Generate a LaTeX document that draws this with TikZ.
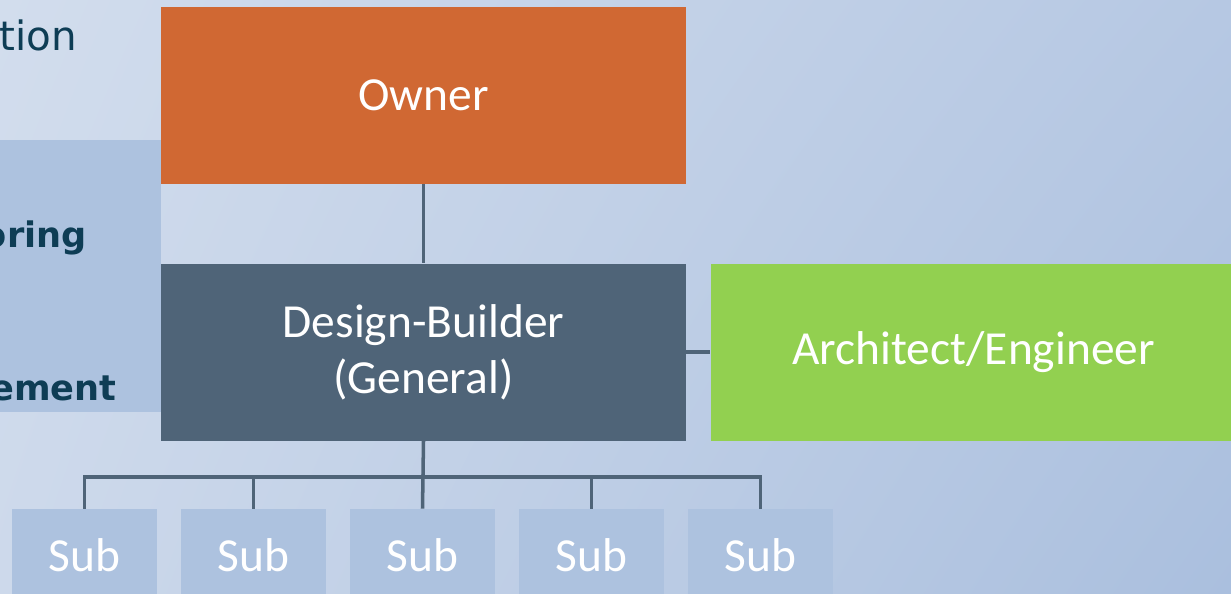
\documentclass[tikz,border=0pt]{standalone}
\usepackage{fontspec}
\setmainfont{Carlito}
\newfontfamily\sidefont{DejaVu Sans}
\usepackage{xcolor}
\usetikzlibrary{positioning,shadings}
\definecolor{ownerorange}{HTML}{D06833}
\definecolor{dbslate}{HTML}{4F6478}
\definecolor{aegreen}{HTML}{92D050}
\definecolor{subblue}{HTML}{ADC2DF}
\definecolor{sideteal}{HTML}{0E3D55}
\definecolor{bgtl}{HTML}{D2DDED}
\definecolor{bgtr}{HTML}{B6C8E3}
\definecolor{bgbl}{HTML}{CDD9EB}
\definecolor{bgbr}{HTML}{AABFDE}

\begin{document}
\begin{tikzpicture}[x=0.02cm, y=-0.02cm,
    box/.style={rectangle, inner sep=0pt, minimum width=10.5cm, minimum height=3.54cm,
        text=white, align=center, font=\fontsize{27}{32}\selectfont},
    subbox/.style={box, fill=subblue, minimum width=2.9cm, minimum height=1.84cm},
    sidetext/.style={inner sep=0pt, text=sideteal},
    link/.style={draw=dbslate, line width=2pt}]
\useasboundingbox (0,0) rectangle (1231,593);

    % Background
    \shade[upper left=bgtl, upper right=bgtr, lower left=bgbl, lower right=bgbr]
        (0,0) rectangle (1231,593);

    % Side panel (cut off)
    \fill[subblue] (-5,140) rectangle (161,412);
    \node[sidetext, anchor=base west, font=\sidefont\fontsize{23}{27}\selectfont] (tion) at (-1,50) {tion};
    \node[sidetext, anchor=base east, font=\sidefont\bfseries\fontsize{20}{24}\selectfont] (oring) at (87,247) {oring};
    \node[sidetext, anchor=base east, font=\sidefont\bfseries\fontsize{20}{24}\selectfont] (ement) at (117,400) {ement};

    % Boxes
    \node[box, fill=ownerorange] (owner) at (423.5,95.5) {Owner};
    \node[box, fill=dbslate, below=1.58cm of owner] (db) {Design-Builder\\(General)};
    \node[box, fill=aegreen, minimum width=10.52cm, right=0.48cm of db] (ae) {Architect/Engineer};

    % Subs
    \foreach \i in {1,...,5}
        \node[subbox] (sub\i) at ({84.5+169*(\i-1)},555) {Sub};

    % Links
    \draw[link] (owner) -- (db);
    \draw[link] (db) -- (ae);
    \coordinate (bus) at ([yshift=-0.72cm]db.south);
    \draw[link] (db.south) -- (sub3.north);
    \draw[link] (sub1.north) |- (bus) -| (sub5.north);
    \foreach \i in {2,4}
        \draw[link] (sub\i.north) -- (sub\i.north |- bus);
\end{tikzpicture}
\end{document}
